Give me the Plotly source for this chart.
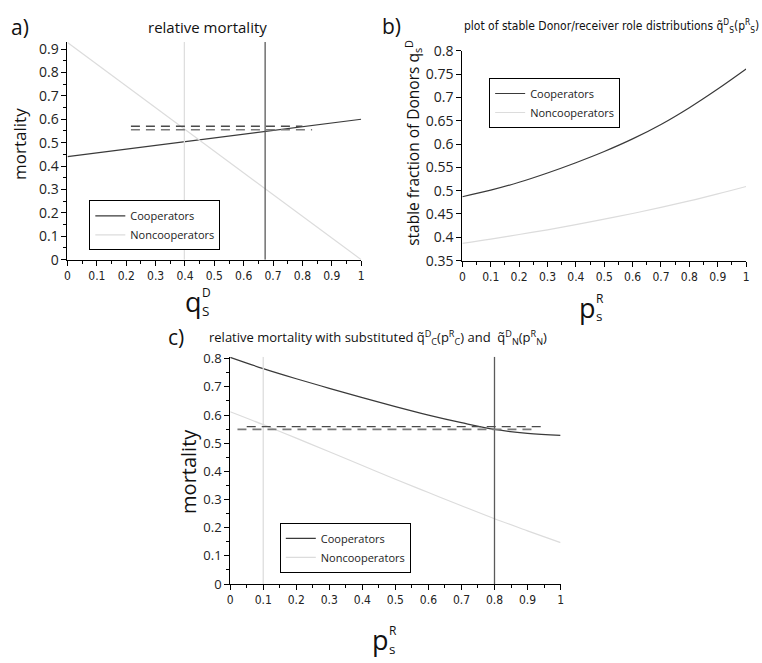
import plotly.graph_objects as go

# ---------------- data ----------------
# panel a
a_x = [0.0, 1.0]
a_coop = [0.44, 0.60]
a_noncoop = [0.928, 0.0]
a_vline_coop = 0.673
a_vline_noncoop = 0.398
a_dash_upper = {"x": [0.216, 0.80], "y": 0.570}
a_dash_lower = {"x": [0.216, 0.833], "y": 0.555}

# panel b
b_x = [0.0, 0.1, 0.2, 0.3, 0.4, 0.5, 0.6, 0.7, 0.8, 0.9, 1.0]
b_coop = [0.487, 0.501, 0.518, 0.538, 0.560, 0.584, 0.611, 0.642, 0.678, 0.718, 0.761]
b_noncoop = [0.387, 0.396, 0.406, 0.416, 0.427, 0.439, 0.451, 0.464, 0.478, 0.493, 0.509]

# panel c
c_x = [0.0, 0.1, 0.2, 0.3, 0.4, 0.5, 0.6, 0.7, 0.8, 0.9, 1.0]
c_coop = [0.805, 0.765, 0.729, 0.695, 0.662, 0.630, 0.600, 0.573, 0.549, 0.535, 0.528]
c_noncoop = [0.612, 0.566, 0.518, 0.470, 0.421, 0.372, 0.325, 0.278, 0.232, 0.189, 0.147]
c_vline_coop = 0.80
c_vline_noncoop = 0.10
c_dash_upper = {"x": [0.05, 0.948], "y": 0.559}
c_dash_lower = {"x": [0.022, 0.92], "y": 0.549}

tick_vals = [0, 0.1, 0.2, 0.3, 0.4, 0.5, 0.6, 0.7, 0.8, 0.9, 1]
tick_text = ["0", "0.1", "0.2", "0.3", "0.4", "0.5", "0.6", "0.7", "0.8", "0.9", "1"]

a_yrange = [0, 0.93]
b_yrange = [0.35, 0.8]
c_yrange = [0, 0.807]

# ---------------- styles ----------------
COOP = "#3a3a3a"
NONCOOP = "#dcdcdc"
VDARK = "#5a5a5a"
VLIGHT = "#dedede"
DASH_UP = "#4a4a4a"
DASH_LO = "#7a7a7a"
FONT = "Open Sans, Noto Sans, DejaVu Sans, sans-serif"
COND = "DejaVu Sans Condensed, Liberation Sans Narrow, Open Sans, sans-serif"

W, H = 762, 663

fig = go.Figure()


def add_panel(xa, ya, legend, x, coop, noncoop, vlines, dashes, yrange, shape):
    fig.add_trace(go.Scatter(x=x, y=coop, mode="lines", name="Cooperators",
                             line=dict(color=COOP, width=1.2, shape=shape, smoothing=1.0),
                             xaxis=xa, yaxis=ya, legend=legend))
    fig.add_trace(go.Scatter(x=x, y=noncoop, mode="lines", name="Noncooperators",
                             line=dict(color=NONCOOP, width=1.2, shape=shape, smoothing=1.0),
                             xaxis=xa, yaxis=ya, legend=legend))
    for xv, col in vlines:
        fig.add_trace(go.Scatter(x=[xv, xv], y=yrange, mode="lines", showlegend=False,
                                 line=dict(color=col, width=1.3), xaxis=xa, yaxis=ya,
                                 hoverinfo="skip"))
    for d, col, wd in dashes:
        fig.add_trace(go.Scatter(x=d["x"], y=[d["y"], d["y"]], mode="lines", showlegend=False,
                                 line=dict(color=col, width=wd, dash="9px,6px"),
                                 xaxis=xa, yaxis=ya, hoverinfo="skip"))


add_panel("x", "y", "legend", a_x, a_coop, a_noncoop,
          [(a_vline_noncoop, VLIGHT), (a_vline_coop, VDARK)],
          [(a_dash_upper, DASH_UP, 1.3), (a_dash_lower, DASH_LO, 1.6)], a_yrange, "linear")
add_panel("x2", "y2", "legend2", b_x, b_coop, b_noncoop, [], [], b_yrange, "spline")
add_panel("x3", "y3", "legend3", c_x, c_coop, c_noncoop,
          [(c_vline_noncoop, VLIGHT), (c_vline_coop, VDARK)],
          [(c_dash_upper, DASH_UP, 1.3), (c_dash_lower, DASH_LO, 1.8)], c_yrange, "spline")


def px_x(p):
    return p / W


def px_y(p):
    return 1 - p / H


def xaxis_cfg(l, r, anchor):
    return dict(domain=[px_x(l), px_x(r)], range=[0, 1], anchor=anchor,
                tickmode="array", tickvals=tick_vals, ticktext=tick_text,
                ticks="outside", ticklen=5, tickcolor="black",
                minor=dict(ticks="outside", ticklen=3, dtick=0.05, tickcolor="black"),
                showline=True, linecolor="black", linewidth=1,
                showgrid=False, zeroline=False,
                tickfont=dict(family=COND, size=12, color="#222"))


def yaxis_cfg(t, b, anchor, rng, dtick, minor, size):
    cfg = dict(domain=[px_y(b), px_y(t)], range=rng, anchor=anchor,
               dtick=dtick, tick0=0, ticks="outside", ticklen=5, tickcolor="black",
               showline=True, linecolor="black", linewidth=1,
               showgrid=False, zeroline=False,
               tickfont=dict(family=FONT, size=size, color="#222"))
    if minor:
        cfg["minor"] = dict(ticks="outside", ticklen=3, dtick=minor, tickcolor="black")
    return cfg


legend_common = dict(bgcolor="white", bordercolor="black", borderwidth=1,
                     font=dict(family=FONT, size=11, color="#222"),
                     xanchor="left", yanchor="top", itemwidth=30,
                     tracegroupgap=0)

fig.update_layout(
    width=W, height=H, margin=dict(l=0, r=0, t=0, b=0),
    paper_bgcolor="white", plot_bgcolor="white",
    showlegend=True,
    xaxis=xaxis_cfg(65, 361, "y"),
    yaxis=yaxis_cfg(33, 257, "x", a_yrange, 0.1, 0.05, 14),
    xaxis2=xaxis_cfg(463, 749, "y2"),
    yaxis2=yaxis_cfg(42, 258, "x2", b_yrange, 0.05, None, 14),
    xaxis3=xaxis_cfg(229, 562, "y3"),
    yaxis3=yaxis_cfg(357, 591, "x3", c_yrange, 0.1, 0.05, 13),
    legend=dict(x=px_x(87), y=px_y(196), **legend_common),
    legend2=dict(x=px_x(490), y=px_y(70), **legend_common),
    legend3=dict(x=px_x(279), y=px_y(528), **legend_common),
)

ann = []


def text(x, y, s, size, family=FONT, angle=0, xanchor="center", yanchor="middle",
         color="#111", pad=1):
    ann.append(dict(x=px_x(x), y=px_y(y), xref="paper", yref="paper", text=s,
                    showarrow=False, textangle=angle, xanchor=xanchor, yanchor=yanchor,
                    borderpad=pad, borderwidth=0 if pad == 0 else 1, bordercolor="rgba(0,0,0,0)",
                    font=dict(family=family, size=size, color=color)))


# panel labels & titles
text(17, 17, "a)", 21)
text(206, 17, "relative mortality", 15)
text(392, 16, "b)", 21)
text(613, 16, "plot of stable Donor/receiver role distributions q̃<sup>D</sup><sub>S</sub>(p<sup>R</sup><sub>S</sub>)",
     12, family=COND)
text(174, 337, "c)", 21)
text(378, 337, "relative mortality with substituted q̃<sup>D</sup><sub>C</sub>(p<sup>R</sup><sub>C</sub>) and  q̃<sup>D</sup><sub>N</sub>(p<sup>R</sup><sub>N</sub>)",
     13, family=FONT)

# y axis titles
text(16, 138, "mortality", 17, angle=-90)
text(413, 137, "stable fraction of Donors q<sub>s</sub><sup>D</sup>", 15.5, angle=-90)
text(187, 475, "mortality", 20, angle=-90)


# x axis titles built from pieces (stacked super/subscripts)
def stacked(cx, cy, base, sup, sub, size):
    text(cx, cy, base, size, xanchor="right", pad=0)
    text(cx, cy - 9, sup, 12, xanchor="left", pad=0)
    text(cx, cy + 9.5, sub, 13.5, xanchor="left", pad=0)


stacked(201, 300, "q", "D", "S", 27)
stacked(598, 306, "p", "R", "s", 27)
stacked(389, 648, "p", "R", "s", 27)

fig.update_layout(annotations=ann)

fig.write_html("out.html", config={"displayModeBar": False},
               post_script="document.body.style.margin='0';document.body.style.overflow='hidden';")
